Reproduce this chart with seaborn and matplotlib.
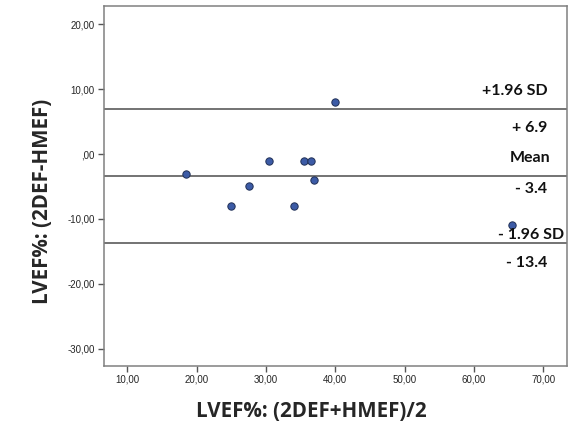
import matplotlib
matplotlib.use("Agg")
import matplotlib.pyplot as plt
import seaborn as sns
import pandas as pd

# Datos Bland-Altman
media_lvef = [18.5, 25.0, 27.5, 30.5, 34.0, 35.5, 36.5, 37.0, 40.0, 65.5]
dif_lvef = [-3, -8, -5, -1, -8, -1, -1, -4, 8, -11]

limite_sup = 6.9
media_dif = -3.4
limite_inf = -13.7

x_ticks = [10, 20, 30, 40, 50, 60, 70]
y_ticks = [-30, -20, -10, 0, 10, 20]

df = pd.DataFrame({"media": media_lvef, "dif": dif_lvef})

sns.set_theme(style="white")
plt.rcParams["font.family"] = ["Liberation Sans", "DejaVu Sans"]

fig = plt.figure(figsize=(5.85, 4.21), dpi=100)
ax = fig.add_axes([0.1773, 0.1314, 0.7914, 0.8543])

for yv in [limite_sup, media_dif, limite_inf]:
    ax.axhline(yv, color="#4d4d4d", lw=1.1, zorder=1)

sns.scatterplot(data=df, x="media", y="dif", ax=ax, s=28,
                color="#3c5ba6", edgecolor="#1f2f55", linewidth=0.7, zorder=3)

ax.set_xlim(6.6, 73.4)
ax.set_ylim(-32.6, 22.8)
ax.set_xticks(x_ticks)
ax.set_yticks(y_ticks)
ax.set_xticklabels([f"{v},00" for v in x_ticks])
ax.set_yticklabels([",00" if v == 0 else f"{v},00" for v in y_ticks])
ax.tick_params(axis="both", labelsize=7, labelcolor="#262626", length=4.5, width=1,
               direction="out", bottom=True, left=True, pad=2, color="#555555")
for sp in ax.spines.values():
    sp.set_color("#808080")
    sp.set_linewidth(1.1)

lab = dict(ha="right", va="center", fontsize=11.5, fontweight="bold",
           family=["Lato", "DejaVu Sans"], color="#111111")
ax.text(70.6, 9.75, "+1.96 SD", **lab)
ax.text(70.6, 4.05, "+ 6.9", **lab)
ax.text(71.05, -0.66, "Mean", **lab)
ax.text(70.6, -5.44, "- 3.4", **lab)
ax.text(73.1, -12.48, "- 1.96 SD", **lab)
ax.text(70.6, -16.75, "- 13.4", **lab)

ax.set_xlabel("LVEF%: (2DEF+HMEF)/2", fontsize=14.8, fontweight="bold",
              family=["Open Sans", "DejaVu Sans"])
ax.set_ylabel("LVEF%: (2DEF-HMEF)", fontsize=14.8, fontweight="bold",
              family=["Open Sans", "DejaVu Sans"])
ax.xaxis.set_label_coords(0.448, -0.098)
ax.yaxis.set_label_coords(-0.109, 0.458)

fig.savefig("out.png", dpi=100)
